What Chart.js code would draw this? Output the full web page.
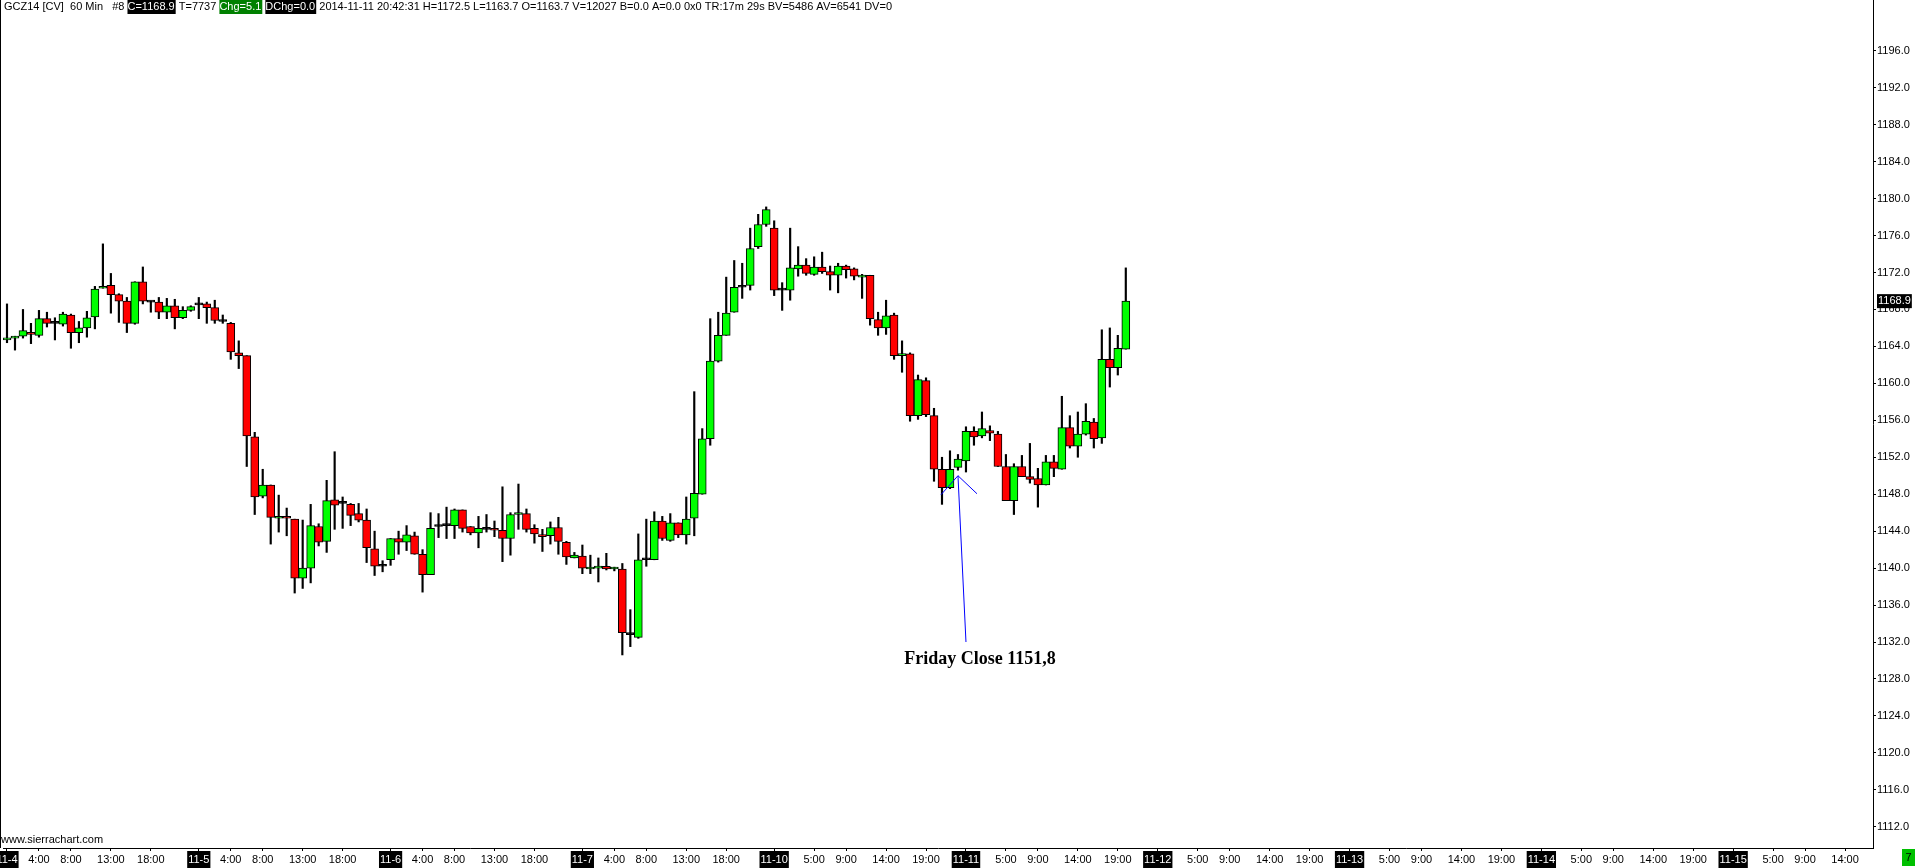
<!DOCTYPE html>
<html>
<head>
<meta charset="utf-8">
<script src="https://cdn.jsdelivr.net/npm/chart.js@4.4.0/dist/chart.umd.min.js"></script>
<style>
  html, body { margin: 0; padding: 0; background: #fff; overflow: hidden; }
  #wrap { width: 1916px; height: 868px; }
</style>
</head>
<body>
<div id="wrap"><canvas id="chart" width="1916" height="868"></canvas></div>
<script>
// session labels on the time axis (24 hourly slots per day)
const days = ['11-4', '11-5', '11-6', '11-7', '11-10', '11-11', '11-12', '11-13', '11-14', '11-15'];
const hourTicks = [
  [4, 8, 13, 18], [4, 8, 13, 18], [4, 8, 13, 18], [4, 8, 13, 18],
  [5, 9, 14, 19], [5, 9, 14, 19], [5, 9, 14, 19], [5, 9, 14, 19], [5, 9, 14, 19], [5, 9, 14, 19]
];
const slotCount = 234;

const yTicks = [1112, 1116, 1120, 1124, 1128, 1132, 1136, 1140, 1144, 1148, 1152, 1156,
  1160, 1164, 1168, 1172, 1176, 1180, 1184, 1188, 1192, 1196];

// GCZ14 60 min bars
const opens = [
  1164.7, 1164.9, 1165.1, 1165.5, 1165.2, 1167.0, 1166.5, 1166.4, 1167.4, 1165.5,
  1166.0, 1167.2, 1170.3, 1170.6, 1169.6, 1168.9, 1166.5, 1171.0, 1168.8, 1168.8,
  1167.7, 1168.4, 1167.1, 1167.9, 1168.5, 1168.6, 1168.2, 1166.7, 1166.5, 1163.3,
  1163.0, 1154.2, 1147.8, 1149.0, 1145.4, 1145.6, 1145.3, 1138.9, 1140.0, 1144.5,
  1142.9, 1147.4, 1147.0, 1146.9, 1145.9, 1145.2, 1142.1, 1140.2, 1140.9, 1143.2,
  1142.8, 1143.5, 1141.5, 1139.3, 1144.5, 1144.6, 1144.6, 1146.3, 1144.5, 1143.8,
  1144.2, 1144.2, 1144.1, 1143.2, 1145.8, 1145.9, 1144.3, 1143.6, 1143.5, 1144.4,
  1142.8, 1141.1, 1141.3, 1139.9, 1140.0, 1140.2, 1139.9, 1139.9, 1132.8, 1132.5,
  1140.9, 1140.9, 1145.1, 1143.0, 1144.9, 1143.6, 1145.4, 1148.0, 1154.0, 1162.4,
  1165.2, 1167.7, 1170.4, 1170.6, 1174.8, 1177.2, 1176.8, 1170.1, 1170.1, 1172.4,
  1172.8, 1171.8, 1172.6, 1172.1, 1171.7, 1172.7, 1172.4, 1171.5, 1171.7, 1166.9,
  1166.0, 1167.4, 1163.0, 1163.2, 1156.5, 1160.3, 1156.5, 1150.7, 1148.7, 1150.9,
  1151.6, 1154.8, 1154.3, 1154.9, 1154.5, 1151.0, 1147.3, 1151.0, 1149.9, 1149.7,
  1149.0, 1151.5, 1150.7, 1155.2, 1153.2, 1154.5, 1155.8, 1154.1, 1162.6, 1161.7,
  1163.7
];
const highs = [
  1168.6, 1165.1, 1168.0, 1166.5, 1167.9, 1167.7, 1167.1, 1167.7, 1167.5, 1166.7,
  1167.8, 1170.5, 1175.1, 1171.9, 1169.7, 1169.3, 1171.0, 1172.6, 1168.9, 1169.3,
  1169.2, 1169.1, 1168.3, 1168.4, 1169.3, 1168.8, 1169.0, 1167.4, 1166.6, 1164.6,
  1163.0, 1154.7, 1150.7, 1149.0, 1147.9, 1146.5, 1145.3, 1145.2, 1146.9, 1144.8,
  1149.5, 1152.6, 1147.7, 1147.0, 1147.0, 1146.4, 1144.0, 1140.8, 1143.2, 1144.0,
  1144.6, 1143.9, 1142.0, 1146.0, 1145.9, 1146.6, 1146.4, 1146.3, 1144.5, 1145.6,
  1145.8, 1145.1, 1148.8, 1146.0, 1149.1, 1146.4, 1144.7, 1144.2, 1145.0, 1145.5,
  1142.9, 1141.7, 1142.5, 1141.4, 1141.1, 1141.6, 1140.1, 1140.5, 1135.5, 1143.7,
  1145.3, 1146.1, 1145.6, 1145.9, 1144.9, 1147.7, 1159.1, 1155.1, 1167.0, 1167.7,
  1171.5, 1173.3, 1173.0, 1176.8, 1178.3, 1179.1, 1177.6, 1170.9, 1176.8, 1174.8,
  1173.5, 1173.7, 1174.2, 1172.7, 1173.0, 1172.8, 1172.5, 1171.8, 1171.7, 1167.7,
  1169.0, 1167.6, 1164.6, 1163.3, 1160.9, 1160.6, 1157.3, 1152.0, 1152.7, 1152.3,
  1155.3, 1155.3, 1156.9, 1155.4, 1154.8, 1152.3, 1151.3, 1152.2, 1153.5, 1150.8,
  1152.2, 1152.2, 1158.6, 1156.5, 1156.9, 1157.8, 1156.2, 1165.8, 1166.0, 1165.2,
  1172.5
];
const lows = [
  1164.4, 1163.6, 1164.9, 1164.3, 1165.0, 1166.1, 1164.7, 1166.2, 1163.8, 1164.4,
  1165.0, 1165.9, 1170.3, 1167.6, 1166.6, 1165.5, 1166.4, 1168.6, 1167.7, 1167.0,
  1167.0, 1165.9, 1167.0, 1167.8, 1167.0, 1166.5, 1166.5, 1166.5, 1162.6, 1161.6,
  1151.0, 1145.8, 1147.6, 1142.6, 1143.9, 1143.5, 1137.3, 1137.8, 1138.4, 1142.4,
  1141.7, 1144.2, 1144.3, 1144.6, 1145.0, 1140.6, 1139.2, 1139.6, 1140.3, 1141.5,
  1141.9, 1141.5, 1137.4, 1139.3, 1143.3, 1143.2, 1143.2, 1143.9, 1143.6, 1142.2,
  1143.9, 1143.4, 1140.7, 1141.4, 1144.2, 1143.9, 1142.7, 1141.8, 1142.6, 1141.5,
  1140.4, 1141.1, 1139.4, 1139.4, 1138.5, 1139.8, 1139.7, 1130.6, 1131.5, 1132.4,
  1140.2, 1140.9, 1143.0, 1142.9, 1143.3, 1142.6, 1143.5, 1148.0, 1153.3, 1162.3,
  1165.2, 1167.7, 1169.2, 1170.1, 1174.6, 1177.0, 1169.5, 1167.9, 1169.0, 1171.6,
  1171.7, 1171.7, 1171.9, 1170.1, 1169.8, 1171.4, 1171.2, 1169.2, 1166.3, 1165.2,
  1165.3, 1162.6, 1161.2, 1155.9, 1156.1, 1156.4, 1149.4, 1146.9, 1148.6, 1150.6,
  1150.4, 1153.3, 1154.1, 1153.8, 1151.0, 1147.3, 1145.8, 1149.9, 1149.2, 1146.6,
  1149.0, 1149.9, 1150.7, 1153.0, 1152.0, 1154.4, 1153.0, 1153.5, 1159.6, 1160.9,
  1163.7
];
const closes = [
  1164.8, 1165.1, 1165.7, 1165.3, 1167.0, 1166.5, 1166.5, 1167.5, 1165.5, 1166.0,
  1167.1, 1170.2, 1170.5, 1169.6, 1168.9, 1166.5, 1171.0, 1168.9, 1168.8, 1167.7,
  1168.4, 1167.1, 1167.9, 1168.3, 1168.5, 1168.2, 1166.8, 1166.7, 1163.4, 1163.0,
  1154.3, 1147.7, 1149.0, 1145.5, 1145.6, 1145.4, 1138.9, 1140.0, 1144.6, 1142.8,
  1147.3, 1146.8, 1147.0, 1145.7, 1145.2, 1142.2, 1140.2, 1140.2, 1143.2, 1142.8,
  1143.6, 1141.5, 1139.3, 1144.3, 1144.5, 1144.6, 1146.3, 1144.3, 1143.8, 1144.3,
  1144.2, 1144.1, 1143.2, 1145.8, 1145.9, 1144.2, 1143.7, 1143.4, 1144.4, 1142.9,
  1141.2, 1141.4, 1140.0, 1140.1, 1140.2, 1139.9, 1140.1, 1133.0, 1132.8, 1140.9,
  1140.9, 1145.1, 1143.2, 1144.9, 1143.6, 1145.3, 1148.1, 1154.0, 1162.4, 1165.2,
  1167.6, 1170.4, 1170.4, 1174.6, 1177.2, 1178.8, 1170.1, 1170.1, 1172.5, 1172.8,
  1171.9, 1172.6, 1172.1, 1171.7, 1172.7, 1172.3, 1171.6, 1171.7, 1167.0, 1166.0,
  1167.3, 1163.0, 1163.2, 1156.5, 1160.4, 1156.6, 1150.7, 1148.7, 1150.7, 1151.8,
  1154.8, 1154.2, 1155.1, 1154.6, 1151.0, 1147.3, 1151.0, 1149.9, 1149.6, 1149.0,
  1151.5, 1150.8, 1155.2, 1153.2, 1154.5, 1155.9, 1154.0, 1162.6, 1161.7, 1163.8,
  1168.9
];

const fridayNote = { index: 119, tipPrice: 1150.0, footIndex: 120, footPrice: 1132.0, textPrice: 1130.1, text: 'Friday Close 1151,8' };

const categories = [];
for (let s = 0; s < slotCount; s++) {
  const d = Math.floor(s / 24), h = s % 24;
  if (h === 0) categories.push(days[d]);
  else if (hourTicks[d].includes(h)) categories.push(h + ':00');
  else categories.push('');
}

const bodyColors = opens.map((o, i) => closes[i] > o ? '#00ff00' : (closes[i] < o ? '#ff0000' : '#000000'));
const font = { family: '"Liberation Sans", Arial, sans-serif', size: 11 };

const overlay = {
  id: 'overlay',
  afterDraw(chart) {
    const { ctx, scales: { x, y }, chartArea } = chart;
    ctx.save();
    ctx.fillStyle = '#000';
    ctx.fillRect(0, 0, 1, chartArea.bottom);

    // header line
    ctx.font = '11px "Liberation Sans", Arial, sans-serif';
    ctx.textBaseline = 'middle';
    const parts = [
      { t: 'GCZ14 [CV]  60 Min   #8 ' },
      { t: 'C=1168.9', bg: '#000', fg: '#fff' },
      { t: ' T=7737 ' },
      { t: 'Chg=5.1', bg: '#008000', fg: '#fff' },
      { t: ' ' },
      { t: 'DChg=0.0', bg: '#000', fg: '#fff' },
      { t: ' 2014-11-11 20:42:31 H=1172.5 L=1163.7 O=1163.7 V=12027 B=0.0 A=0.0 0x0 TR:17m 29s BV=5486 AV=6541 DV=0' }
    ];
    let hx = 4;
    parts.forEach(p => {
      const w = ctx.measureText(p.t).width;
      if (p.bg) { ctx.fillStyle = p.bg; ctx.fillRect(hx, 0, w + 1, 14); }
      ctx.fillStyle = p.fg || '#000';
      ctx.fillText(p.t, hx, 7);
      hx += w + (p.bg ? 1 : 0);
    });

    ctx.fillStyle = '#000';
    ctx.fillText('www.sierrachart.com', 1, 840);

    // last price marker
    const last = closes[closes.length - 1];
    const py = y.getPixelForValue(last);
    const lt = last.toFixed(1);
    const lw = ctx.measureText(lt).width;
    ctx.fillRect(y.left + 4, py - 7, lw + 2, 14);
    ctx.fillStyle = '#fff';
    ctx.fillText(lt, y.left + 5, py);

    // bar counter box
    ctx.fillStyle = '#00c000';
    ctx.fillRect(1902, 849, 13, 17);
    ctx.fillStyle = '#000';
    ctx.textAlign = 'center';
    ctx.fillText('7', 1908.5, 858);

    // Friday close note
    const tx = x.getPixelForValue(fridayNote.index);
    const ty = y.getPixelForValue(fridayNote.tipPrice);
    const fx = x.getPixelForValue(fridayNote.footIndex);
    const fy = y.getPixelForValue(fridayNote.footPrice);
    ctx.strokeStyle = '#0000ff';
    ctx.lineWidth = 1;
    ctx.beginPath();
    ctx.moveTo(fx, fy); ctx.lineTo(tx, ty);
    ctx.moveTo(tx - 17, ty + 19); ctx.lineTo(tx, ty); ctx.lineTo(tx + 19, ty + 18);
    ctx.stroke();
    ctx.fillStyle = '#000';
    ctx.font = 'bold 18px "Liberation Serif", "Times New Roman", serif';
    ctx.fillText(fridayNote.text, fx + 14, y.getPixelForValue(fridayNote.textPrice));
    ctx.restore();
  }
};

new Chart(document.getElementById('chart').getContext('2d'), {
  type: 'bar',
  data: {
    labels: categories,
    datasets: [{
      label: 'body',
      data: opens.map((o, i) => [o, closes[i]]),
      backgroundColor: bodyColors,
      borderColor: '#000',
      borderWidth: 1,
      borderSkipped: false,
      minBarLength: 2,
      barPercentage: 1,
      categoryPercentage: 1,
      grouped: false
    }, {
      label: 'wick',
      data: lows.map((l, i) => [l, highs[i]]),
      backgroundColor: '#000',
      borderWidth: 0,
      barThickness: 1.5,
      grouped: false
    }]
  },
  options: {
    responsive: false,
    animation: false,
    layout: { padding: { left: 3, top: 0, right: 0, bottom: 0 } },
    plugins: { legend: { display: false }, tooltip: { enabled: false } },
    scales: {
      x: {
        type: 'category',
        offset: true,
        grid: { drawOnChartArea: false, drawTicks: true, tickLength: 3, color: '#000', offset: false },
        border: { display: true, color: '#000', width: 1 },
        ticks: {
          autoSkip: false, maxRotation: 0, minRotation: 0, padding: 2, font: font,
          color: c => days.includes(c.tick.label) ? '#fff' : '#000',
          showLabelBackdrop: c => days.includes(c.tick.label),
          backdropColor: '#000',
          backdropPadding: { left: 1, right: 1, top: 2, bottom: 2 }
        },
        afterBuildTicks: s => { s.ticks = s.ticks.filter(t => categories[t.value] !== ''); },
        afterFit: s => { s.height = 20; s.paddingLeft = 0; s.paddingRight = 0; }
      },
      y: {
        position: 'right',
        min: 1109.7,
        max: 1201.5,
        grid: { drawOnChartArea: false, tickLength: 3, color: '#000' },
        border: { display: true, color: '#000', width: 1 },
        ticks: { padding: 1, font: font, color: '#000', callback: v => v.toFixed(1) },
        afterBuildTicks: s => { s.ticks = yTicks.map(v => ({ value: v })); },
        afterFit: s => { s.width = 43; s.paddingTop = 0; s.paddingBottom = 0; }
      }
    }
  },
  plugins: [overlay]
});
</script>
</body>
</html>
